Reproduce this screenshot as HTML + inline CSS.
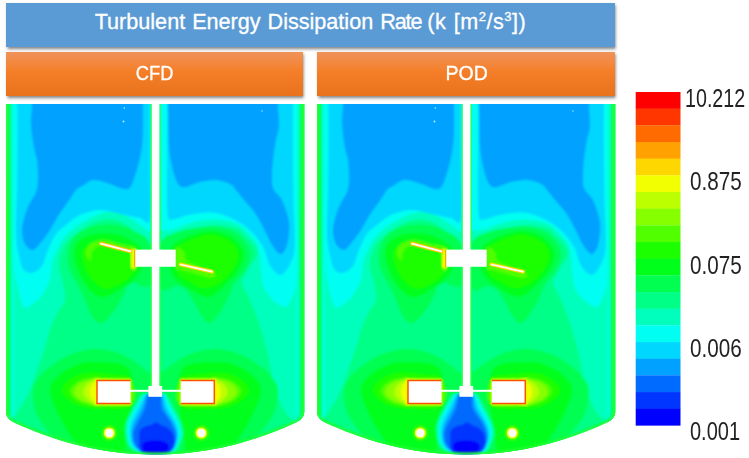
<!DOCTYPE html>
<html><head><meta charset="utf-8"><style>
html,body{margin:0;padding:0;background:#fff;}
body{width:749px;height:458px;overflow:hidden;position:relative;font-family:"Liberation Sans",sans-serif;}
.hdr{position:absolute;color:#fff;text-align:center;box-shadow:0.5px 2px 3px rgba(0,0,0,.5);}
#title{left:6px;top:3px;width:609px;height:44px;background:#5b9bd5;font-size:21.6px;line-height:38px;word-spacing:1px;}
#title sup{font-size:13px;line-height:0;vertical-align:8px;}
.or{top:52px;height:44px;background:linear-gradient(#f0925a 0%,#f57f28 45%,#e9721c 100%);font-size:21px;line-height:41px;}
.or span{display:inline-block;transform:scaleX(.87);}
#pod span{transform:scaleX(.93);position:relative;left:1px;}
.hdr{-webkit-text-stroke:0.3px #fff;}
#cfd{left:6px;width:297px;}
#pod{left:317.4px;width:297.6px;}
.lab{position:absolute;white-space:nowrap;font-size:25px;color:#222;line-height:26px;transform-origin:0 0;}
svg{position:absolute;left:0;top:0;}
</style></head><body>
<div class="hdr" id="title">Turbulent Energy Dissipation <span style="letter-spacing:-1.1px">Rate </span><span style="letter-spacing:.5px">(k [m<sup>2</sup>/s<sup>3</sup>])</span></div>
<div class="hdr or" id="cfd"><span>CFD</span></div>
<div class="hdr or" id="pod"><span>POD</span></div>
<svg width="749" height="458" viewBox="0 0 749 458">
<defs>
<clipPath id="tc"><path d="M6,104 H304.3 V411 C304.3,417 301,420 296,422.5 C262,438 215,454.5 155,454.5 C95,454.5 48,438 14,422.5 C9,420 6,417 6,411 Z"/></clipPath>
<filter id="bl" x="-5%" y="-5%" width="110%" height="110%"><feGaussianBlur stdDeviation="1.1"/></filter>
<linearGradient id="wl" x1="0" x2="1"><stop offset="0" stop-color="#20ff40"/><stop offset=".3" stop-color="#00ff60"/><stop offset=".6" stop-color="#00ffd0"/><stop offset="1" stop-color="#00fff0" stop-opacity="0"/></linearGradient>
<linearGradient id="wr" x1="1" x2="0"><stop offset="0" stop-color="#20ff40"/><stop offset=".3" stop-color="#00ff60"/><stop offset=".6" stop-color="#00ffd0"/><stop offset="1" stop-color="#00fff0" stop-opacity="0"/></linearGradient>
<g id="tank">
<g clip-path="url(#tc)">
<rect x="0" y="95" width="312" height="365" fill="#00ff86"/>
<g filter="url(#bl)">
<path fill="#00ffbc" d="M0.0,95.0 C51.7,39.2 258.0,39.2 310.0,95.0 C362.0,150.8 313.7,375.0 312.0,430.0 C310.3,485.0 304.5,428.0 300.0,425.0 C295.5,422.0 289.3,418.7 285.0,412.0 C280.7,405.3 276.5,392.8 274.0,385.0 C271.5,377.2 271.7,372.5 270.0,365.0 C268.3,357.5 266.3,348.3 264.0,340.0 C261.7,331.7 258.7,322.3 256.0,315.0 C253.3,307.7 250.3,301.3 248.0,296.0 C245.7,290.7 242.0,287.3 242.0,283.0 C242.0,278.7 245.5,274.7 248.0,270.0 C250.5,265.3 256.2,259.0 257.0,254.6 C257.8,250.2 254.8,247.0 252.6,243.7 C250.4,240.4 246.6,237.6 244.0,235.0 C241.4,232.4 241.8,230.1 237.0,228.4 C232.2,226.7 222.7,225.0 215.5,225.0 C208.3,225.0 201.2,226.7 194.0,228.4 C186.8,230.1 177.7,232.8 172.0,235.0 C166.3,237.2 162.8,240.2 160.0,241.5 C157.2,242.8 156.7,242.6 155.0,243.0 C153.3,243.4 152.2,245.0 150.0,244.0 C147.8,243.0 145.2,239.7 142.0,237.0 C138.8,234.3 135.0,230.7 131.0,228.0 C127.0,225.3 122.7,222.3 118.0,221.0 C113.3,219.7 108.2,219.2 103.0,220.0 C97.8,220.8 92.2,223.2 87.0,226.0 C81.8,228.8 76.0,233.3 72.0,237.0 C68.0,240.7 65.2,243.3 63.0,248.0 C60.8,252.7 59.0,259.2 59.0,265.0 C59.0,270.8 62.0,277.2 63.0,283.0 C64.0,288.8 65.8,295.2 65.0,300.0 C64.2,304.8 60.5,307.0 58.0,312.0 C55.5,317.0 52.0,324.5 50.0,330.0 C48.0,335.5 48.0,338.7 46.0,345.0 C44.0,351.3 40.7,360.5 38.0,368.0 C35.3,375.5 32.7,383.8 30.0,390.0 C27.3,396.2 25.0,400.0 22.0,405.0 C19.0,410.0 15.7,415.8 12.0,420.0 C8.3,424.2 2.0,484.2 0.0,430.0 C-2.0,375.8 -51.7,150.8 0.0,95.0Z"/>
<path fill="#00fff2" d="M0.0,95.0 C51.7,73.3 258.0,69.2 310.0,95.0 C362.0,120.8 313.8,220.8 312.0,250.0 C310.2,279.2 302.3,263.5 299.5,270.0 C296.7,276.5 296.6,283.7 295.0,289.0 C293.4,294.3 291.5,299.0 290.0,302.0 C288.5,305.0 287.7,306.5 286.0,307.0 C284.3,307.5 282.2,306.2 280.0,305.0 C277.8,303.8 275.7,302.8 273.0,300.0 C270.3,297.2 266.0,293.0 264.0,288.0 C262.0,283.0 261.7,275.2 261.0,270.0 C260.3,264.8 260.7,261.4 260.0,257.0 C259.3,252.6 259.0,247.7 257.0,243.7 C255.0,239.7 251.3,236.3 248.0,233.0 C244.7,229.7 242.4,226.2 237.0,224.0 C231.6,221.8 222.7,219.9 215.5,219.6 C208.3,219.3 201.2,220.3 194.0,222.0 C186.8,223.7 177.7,228.1 172.0,229.5 C166.3,230.9 162.8,230.2 160.0,230.5 C157.2,230.8 156.7,230.8 155.0,231.0 C153.3,231.2 151.8,232.5 150.0,232.0 C148.2,231.5 146.8,230.0 144.0,228.0 C141.2,226.0 137.3,222.5 133.0,220.0 C128.7,217.5 123.0,214.2 118.0,213.0 C113.0,211.8 108.2,211.8 103.0,213.0 C97.8,214.2 91.8,217.5 87.0,220.0 C82.2,222.5 78.0,224.8 74.0,228.0 C70.0,231.2 65.8,235.3 63.0,239.0 C60.2,242.7 58.8,246.2 57.0,250.0 C55.2,253.8 53.2,257.2 52.0,262.0 C50.8,266.8 51.2,274.3 50.0,279.0 C48.8,283.7 46.8,286.7 45.0,290.0 C43.2,293.3 41.3,296.5 39.0,299.0 C36.7,301.5 33.4,303.5 31.0,305.0 C28.6,306.5 26.3,308.8 24.6,307.8 C22.9,306.8 22.1,303.8 20.6,299.0 C19.1,294.2 17.3,286.3 15.7,279.0 C14.1,271.7 12.3,263.2 11.0,255.0 C9.7,246.8 9.8,235.0 8.0,230.0 C6.2,225.0 1.3,247.5 0.0,225.0 C-1.3,202.5 -51.7,116.7 0.0,95.0Z"/>
<path fill="#00d7ff" d="M17.5,60.0 C28.4,48.3 60.9,40.0 83.0,40.0 C105.1,40.0 138.8,49.3 150.0,60.0 C161.2,70.7 150.0,87.3 150.0,104.0 C150.0,120.7 150.0,140.8 150.0,160.0 C150.0,179.2 151.7,209.3 150.0,219.0 C148.3,228.7 145.0,218.8 140.0,218.0 C135.0,217.2 126.7,215.3 120.0,214.0 C113.3,212.7 106.7,209.8 100.0,210.0 C93.3,210.2 85.7,212.5 80.0,215.0 C74.3,217.5 70.0,221.8 66.0,225.0 C62.0,228.2 59.0,229.8 56.0,234.0 C53.0,238.2 50.3,244.7 48.0,250.0 C45.7,255.3 44.7,262.2 42.0,266.0 C39.3,269.8 35.0,272.3 32.0,273.0 C29.0,273.7 26.0,272.2 24.0,270.0 C22.0,267.8 21.3,265.8 20.0,260.0 C18.7,254.2 16.5,246.7 16.0,235.0 C15.5,223.3 16.8,204.2 17.0,190.0 C17.2,175.8 17.4,163.3 17.5,150.0 C17.6,136.7 17.5,125.0 17.5,110.0 C17.5,95.0 6.6,71.7 17.5,60.0Z"/>
<path fill="#00d7ff" d="M161.0,60.0 C171.3,49.3 207.0,40.0 229.0,40.0 C251.0,40.0 282.3,49.3 293.0,60.0 C303.7,70.7 293.0,89.0 293.0,104.0 C293.0,119.0 292.9,134.0 293.0,150.0 C293.1,166.0 293.2,184.3 293.5,200.0 C293.8,215.7 295.4,233.7 295.0,244.0 C294.6,254.3 293.3,256.8 291.0,262.0 C288.7,267.2 284.5,274.4 281.0,275.0 C277.5,275.6 272.9,270.0 270.0,265.5 C267.1,261.0 266.4,253.4 263.5,248.0 C260.6,242.6 257.0,237.5 252.6,233.0 C248.2,228.5 243.2,224.3 237.0,221.0 C230.8,217.7 222.7,214.2 215.5,213.0 C208.3,211.8 201.2,212.9 194.0,214.0 C186.8,215.1 176.3,219.1 172.0,219.6 C167.7,220.1 168.8,220.3 168.0,217.0 C167.2,213.7 167.2,211.2 167.0,200.0 C166.8,188.8 167.0,166.0 167.0,150.0 C167.0,134.0 168.0,119.0 167.0,104.0 C166.0,89.0 150.7,70.7 161.0,60.0Z"/>
<path fill="#00a1ff" d="M32.0,60.0 C41.3,49.3 69.5,40.0 88.0,40.0 C106.5,40.0 133.8,49.3 143.0,60.0 C152.2,70.7 143.0,92.3 143.0,104.0 C143.0,115.7 143.2,123.0 143.0,130.0 C142.8,137.0 142.8,140.0 142.0,146.0 C141.2,152.0 139.8,159.3 138.0,166.0 C136.2,172.7 133.3,182.2 131.0,186.0 C128.7,189.8 127.5,189.3 124.0,189.0 C120.5,188.7 115.0,185.5 110.0,184.0 C105.0,182.5 98.7,179.7 94.0,180.0 C89.3,180.3 85.0,184.3 82.0,186.0 C79.0,187.7 78.3,187.3 76.0,190.0 C73.7,192.7 71.0,197.7 68.0,202.0 C65.0,206.3 61.0,211.3 58.0,216.0 C55.0,220.7 53.3,225.0 50.0,230.0 C46.7,235.0 41.0,242.7 38.0,246.0 C35.0,249.3 34.2,250.3 32.0,250.0 C29.8,249.7 26.7,247.3 25.0,244.0 C23.3,240.7 21.8,235.3 22.0,230.0 C22.2,224.7 24.5,216.8 26.0,212.0 C27.5,207.2 29.3,204.3 31.0,201.0 C32.7,197.7 34.8,195.5 36.0,192.0 C37.2,188.5 37.8,185.3 38.0,180.0 C38.2,174.7 37.7,165.3 37.0,160.0 C36.3,154.7 35.0,154.0 34.0,148.0 C33.0,142.0 31.3,131.3 31.0,124.0 C30.7,116.7 31.8,114.7 32.0,104.0 C32.2,93.3 22.7,70.7 32.0,60.0Z"/>
<path fill="#00a1ff" d="M168.0,60.0 C177.2,49.3 204.7,40.0 223.0,40.0 C241.3,40.0 268.8,49.3 278.0,60.0 C287.2,70.7 277.8,93.0 278.0,104.0 C278.2,115.0 279.3,120.0 279.0,126.0 C278.7,132.0 277.0,134.3 276.0,140.0 C275.0,145.7 273.7,153.3 273.0,160.0 C272.3,166.7 271.8,175.0 272.0,180.0 C272.2,185.0 272.3,186.7 274.0,190.0 C275.7,193.3 279.5,194.7 282.0,200.0 C284.5,205.3 288.0,215.3 289.0,222.0 C290.0,228.7 288.7,235.3 288.0,240.0 C287.3,244.7 286.3,247.7 285.0,250.0 C283.7,252.3 282.2,254.8 280.0,254.0 C277.8,253.2 274.8,249.3 272.0,245.0 C269.2,240.7 266.3,233.3 263.5,228.0 C260.7,222.7 258.2,217.7 255.0,213.0 C251.8,208.3 247.2,203.8 244.0,200.0 C240.8,196.2 238.3,192.7 236.0,190.0 C233.7,187.3 233.3,185.7 230.0,184.0 C226.7,182.3 221.0,180.3 216.0,180.0 C211.0,179.7 205.0,180.8 200.0,182.0 C195.0,183.2 189.3,186.3 186.0,187.0 C182.7,187.7 181.7,187.2 180.0,186.0 C178.3,184.8 177.3,183.3 176.0,180.0 C174.7,176.7 173.2,171.7 172.0,166.0 C170.8,160.3 169.7,156.3 169.0,146.0 C168.3,135.7 168.2,118.3 168.0,104.0 C167.8,89.7 158.8,70.7 168.0,60.0Z"/>
<path fill="#00ff51" d="M68.0,255.0 C68.3,250.0 69.7,244.0 72.0,240.0 C74.3,236.0 78.2,233.3 82.0,231.0 C85.8,228.7 89.5,227.0 95.0,226.0 C100.5,225.0 108.8,224.3 115.0,225.0 C121.2,225.7 126.2,226.8 132.0,230.0 C137.8,233.2 147.0,234.8 150.0,244.0 C153.0,253.2 153.3,278.7 150.0,285.0 C146.7,291.3 134.3,280.5 130.0,282.0 C125.7,283.5 126.3,289.7 124.0,294.0 C121.7,298.3 118.7,304.0 116.0,308.0 C113.3,312.0 110.7,315.5 108.0,318.0 C105.3,320.5 102.7,323.3 100.0,323.0 C97.3,322.7 94.3,319.5 92.0,316.0 C89.7,312.5 88.3,307.2 86.0,302.0 C83.7,296.8 80.7,290.3 78.0,285.0 C75.3,279.7 71.7,275.0 70.0,270.0 C68.3,265.0 67.7,260.0 68.0,255.0Z"/>
<path fill="#00ff51" d="M161.0,244.0 C163.3,234.8 169.3,235.7 175.0,233.0 C180.7,230.3 188.2,229.0 195.0,228.0 C201.8,227.0 209.2,226.2 216.0,227.0 C222.8,227.8 230.7,229.8 236.0,233.0 C241.3,236.2 245.7,241.8 248.0,246.0 C250.3,250.2 250.7,253.7 250.0,258.0 C249.3,262.3 246.7,267.7 244.0,272.0 C241.3,276.3 236.7,279.7 234.0,284.0 C231.3,288.3 230.3,293.3 228.0,298.0 C225.7,302.7 223.0,307.8 220.0,312.0 C217.0,316.2 213.0,322.3 210.0,323.0 C207.0,323.7 204.7,319.5 202.0,316.0 C199.3,312.5 196.7,306.3 194.0,302.0 C191.3,297.7 189.0,292.7 186.0,290.0 C183.0,287.3 180.2,286.3 176.0,286.0 C171.8,285.7 163.5,295.0 161.0,288.0 C158.5,281.0 158.7,253.2 161.0,244.0Z"/>
<path fill="#00ff1b" d="M74.0,252.0 C74.3,247.5 76.3,243.8 79.0,241.0 C81.7,238.2 85.7,236.2 90.0,235.0 C94.3,233.8 100.0,233.5 105.0,233.5 C110.0,233.5 115.2,233.6 120.0,235.0 C124.8,236.4 130.3,239.5 134.0,242.0 C137.7,244.5 140.7,245.7 142.0,250.0 C143.3,254.3 143.3,263.0 142.0,268.0 C140.7,273.0 137.0,276.8 134.0,280.0 C131.0,283.2 127.0,285.0 124.0,287.0 C121.0,289.0 118.7,290.5 116.0,292.0 C113.3,293.5 110.7,295.2 108.0,296.0 C105.3,296.8 102.7,297.7 100.0,297.0 C97.3,296.3 94.7,294.5 92.0,292.0 C89.3,289.5 86.5,286.0 84.0,282.0 C81.5,278.0 78.7,273.0 77.0,268.0 C75.3,263.0 73.7,256.5 74.0,252.0Z"/>
<path fill="#00ff1b" d="M170.0,250.0 C171.7,245.3 175.8,242.7 180.0,240.0 C184.2,237.3 189.7,235.5 195.0,234.0 C200.3,232.5 206.2,230.7 212.0,231.0 C217.8,231.3 225.0,233.2 230.0,236.0 C235.0,238.8 239.8,244.0 242.0,248.0 C244.2,252.0 244.0,255.7 243.0,260.0 C242.0,264.3 238.8,270.0 236.0,274.0 C233.2,278.0 229.0,281.0 226.0,284.0 C223.0,287.0 221.0,289.8 218.0,292.0 C215.0,294.2 211.3,296.7 208.0,297.0 C204.7,297.3 201.3,295.5 198.0,294.0 C194.7,292.5 191.7,290.3 188.0,288.0 C184.3,285.7 179.0,283.3 176.0,280.0 C173.0,276.7 171.0,273.0 170.0,268.0 C169.0,263.0 168.3,254.7 170.0,250.0Z"/>
<path fill="#1bff00" d="M83.0,250.0 C84.2,247.2 87.4,245.5 90.0,244.0 C92.6,242.5 94.2,240.8 98.4,241.0 C102.6,241.2 109.1,243.5 115.0,245.0 C120.9,246.5 130.5,246.2 133.8,250.0 C137.1,253.8 136.0,263.2 135.0,268.0 C134.0,272.8 131.2,276.0 128.0,279.0 C124.8,282.0 119.8,284.3 116.0,286.0 C112.2,287.7 108.6,289.3 105.3,289.0 C102.0,288.7 98.9,286.5 96.0,284.0 C93.1,281.5 90.2,277.8 88.0,274.0 C85.8,270.2 83.5,265.0 82.7,261.0 C81.9,257.0 81.8,252.8 83.0,250.0Z"/>
<path fill="#1bff00" d="M176.0,250.0 C177.1,245.0 180.8,245.0 184.0,243.0 C187.2,241.0 190.8,239.4 195.3,238.0 C199.8,236.6 205.1,233.9 211.0,234.5 C216.9,235.1 226.1,238.0 230.7,241.5 C235.3,245.0 238.5,250.1 238.5,255.3 C238.5,260.6 234.3,268.1 230.7,273.0 C227.1,277.9 221.6,282.5 217.0,285.0 C212.4,287.5 207.6,288.5 203.0,288.0 C198.4,287.5 193.6,284.5 189.4,282.0 C185.2,279.5 179.8,278.3 177.6,273.0 C175.4,267.7 174.9,255.0 176.0,250.0Z"/>
<path fill="#51ff00" d="M96.0,241.5 C93.7,242.2 91.7,242.6 90.0,244.0 C88.3,245.4 86.5,247.8 86.0,250.0 C85.5,252.2 86.2,255.3 87.0,257.0 C87.8,258.7 90.2,260.8 91.0,260.0 C91.8,259.2 90.5,254.3 92.0,252.0 C93.5,249.7 95.7,246.3 100.0,246.0 C104.3,245.7 113.0,248.8 118.0,250.0 C123.0,251.2 127.8,250.0 130.0,253.0 C132.2,256.0 130.0,265.5 131.0,268.0 C132.0,270.5 135.2,271.2 136.0,268.0 C136.8,264.8 138.7,253.0 136.0,249.0 C133.3,245.0 125.3,245.5 120.0,244.0 C114.7,242.5 108.0,240.4 104.0,240.0 C100.0,239.6 98.3,240.8 96.0,241.5Z"/>
<path fill="#51ff00" d="M176.0,248.0 C177.3,245.3 182.3,250.0 184.0,252.0 C185.7,254.0 183.7,257.7 186.0,260.0 C188.3,262.3 193.7,264.3 198.0,266.0 C202.3,267.7 209.0,268.3 212.0,270.0 C215.0,271.7 216.3,274.7 216.0,276.0 C215.7,277.3 213.3,278.3 210.0,278.0 C206.7,277.7 200.7,275.3 196.0,274.0 C191.3,272.7 185.3,271.0 182.0,270.0 C178.7,269.0 177.0,271.7 176.0,268.0 C175.0,264.3 174.7,250.7 176.0,248.0Z"/>
<path fill="#86ff00" d="M131.5,250.0 C132.2,247.0 134.8,247.0 135.5,250.0 C136.2,253.0 136.2,265.0 135.5,268.0 C134.8,271.0 132.2,271.0 131.5,268.0 C130.8,265.0 130.8,253.0 131.5,250.0Z"/>
<path fill="#00ff51" d="M33.0,392.0 C33.0,384.7 36.5,380.7 40.0,376.0 C43.5,371.3 48.7,367.7 54.0,364.0 C59.3,360.3 65.2,356.5 72.0,354.0 C78.8,351.5 87.3,349.2 95.0,349.0 C102.7,348.8 111.3,350.8 118.0,353.0 C124.7,355.2 130.0,358.8 135.0,362.0 C140.0,365.2 144.7,369.7 148.0,372.0 C151.3,374.3 152.7,376.0 155.0,376.0 C157.3,376.0 158.5,374.3 162.0,372.0 C165.5,369.7 170.8,365.2 176.0,362.0 C181.2,358.8 186.3,355.2 193.0,353.0 C199.7,350.8 208.3,348.8 216.0,349.0 C223.7,349.2 232.2,351.5 239.0,354.0 C245.8,356.5 251.7,360.3 257.0,364.0 C262.3,367.7 267.5,371.3 271.0,376.0 C274.5,380.7 278.2,384.7 278.0,392.0 C277.8,399.3 276.3,411.2 270.0,420.0 C263.7,428.8 259.2,438.3 240.0,445.0 C220.8,451.7 183.3,460.0 155.0,460.0 C126.7,460.0 89.2,451.7 70.0,445.0 C50.8,438.3 46.2,428.8 40.0,420.0 C33.8,411.2 33.0,399.3 33.0,392.0Z"/>
<path fill="#00ff1b" d="M50.0,392.0 C49.0,383.8 54.0,380.3 58.0,376.0 C62.0,371.7 68.3,368.3 74.0,366.0 C79.7,363.7 83.0,361.7 92.0,362.0 C101.0,362.3 121.3,361.0 128.0,368.0 C134.7,375.0 132.0,393.7 132.0,404.0 C132.0,414.3 130.0,420.7 128.0,430.0 C126.0,439.3 127.3,456.7 120.0,460.0 C112.7,463.3 93.3,455.8 84.0,450.0 C74.7,444.2 69.7,434.7 64.0,425.0 C58.3,415.3 51.0,400.2 50.0,392.0Z"/>
<path fill="#00ff1b" d="M261.0,392.0 C262.0,383.8 257.0,380.3 253.0,376.0 C249.0,371.7 242.7,368.3 237.0,366.0 C231.3,363.7 228.0,361.7 219.0,362.0 C210.0,362.3 189.7,361.0 183.0,368.0 C176.3,375.0 179.0,393.7 179.0,404.0 C179.0,414.3 181.0,420.7 183.0,430.0 C185.0,439.3 183.7,456.7 191.0,460.0 C198.3,463.3 217.7,455.8 227.0,450.0 C236.3,444.2 241.3,434.7 247.0,425.0 C252.7,415.3 260.0,400.2 261.0,392.0Z"/>
<path fill="#1bff00" d="M62.0,392.0 C60.7,387.8 65.0,383.2 69.0,380.0 C73.0,376.8 79.2,374.0 86.0,373.0 C92.8,372.0 102.3,373.0 110.0,374.0 C117.7,375.0 128.3,373.7 132.0,379.0 C135.7,384.3 137.3,401.0 132.0,406.0 C126.7,411.0 109.2,409.2 100.0,409.0 C90.8,408.8 83.3,407.8 77.0,405.0 C70.7,402.2 63.3,396.2 62.0,392.0Z"/>
<path fill="#1bff00" d="M249.0,392.0 C250.3,387.8 246.0,383.2 242.0,380.0 C238.0,376.8 231.8,374.0 225.0,373.0 C218.2,372.0 208.7,373.0 201.0,374.0 C193.3,375.0 182.7,373.7 179.0,379.0 C175.3,384.3 173.7,401.0 179.0,406.0 C184.3,411.0 201.8,409.2 211.0,409.0 C220.2,408.8 227.7,407.8 234.0,405.0 C240.3,402.2 247.7,396.2 249.0,392.0Z"/>
<path fill="#51ff00" d="M70.0,392.0 C69.3,388.8 72.8,385.3 76.0,383.0 C79.2,380.7 83.3,378.7 89.0,378.0 C94.7,377.3 103.0,378.3 110.0,379.0 C117.0,379.7 127.5,377.8 131.0,382.0 C134.5,386.2 136.2,400.0 131.0,404.0 C125.8,408.0 108.5,406.3 100.0,406.0 C91.5,405.7 85.0,404.3 80.0,402.0 C75.0,399.7 70.7,395.2 70.0,392.0Z"/>
<path fill="#51ff00" d="M241.0,392.0 C241.7,388.8 238.2,385.3 235.0,383.0 C231.8,380.7 227.7,378.7 222.0,378.0 C216.3,377.3 208.0,378.3 201.0,379.0 C194.0,379.7 183.5,377.8 180.0,382.0 C176.5,386.2 174.8,400.0 180.0,404.0 C185.2,408.0 202.5,406.3 211.0,406.0 C219.5,405.7 226.0,404.3 231.0,402.0 C236.0,399.7 240.3,395.2 241.0,392.0Z"/>
<path fill="#86ff00" d="M74.0,392.0 C74.0,389.5 76.3,386.0 79.0,384.0 C81.7,382.0 86.7,380.7 90.0,380.0 C93.3,379.3 97.5,376.0 99.0,380.0 C100.5,384.0 100.8,400.2 99.0,404.0 C97.2,407.8 91.3,403.8 88.0,403.0 C84.7,402.2 81.3,400.8 79.0,399.0 C76.7,397.2 74.0,394.5 74.0,392.0Z"/>
<path fill="#86ff00" d="M237.0,392.0 C237.0,389.5 234.7,386.0 232.0,384.0 C229.3,382.0 224.3,380.7 221.0,380.0 C217.7,379.3 213.5,376.0 212.0,380.0 C210.5,384.0 210.2,400.2 212.0,404.0 C213.8,407.8 219.7,403.8 223.0,403.0 C226.3,402.2 229.7,400.8 232.0,399.0 C234.3,397.2 237.0,394.5 237.0,392.0Z"/>
<path fill="#bcff00" d="M83.0,392.0 C83.2,389.7 85.2,385.9 87.0,384.0 C88.8,382.1 92.2,381.1 94.0,380.5 C95.8,379.9 97.3,376.7 98.0,380.5 C98.7,384.3 99.0,399.8 98.0,403.5 C97.0,407.2 94.0,403.4 92.0,402.5 C90.0,401.6 87.5,399.8 86.0,398.0 C84.5,396.2 82.8,394.3 83.0,392.0Z"/>
<path fill="#bcff00" d="M228.0,392.0 C227.8,389.7 225.8,385.9 224.0,384.0 C222.2,382.1 218.8,381.1 217.0,380.5 C215.2,379.9 213.7,376.7 213.0,380.5 C212.3,384.3 212.0,399.8 213.0,403.5 C214.0,407.2 217.0,403.4 219.0,402.5 C221.0,401.6 223.5,399.8 225.0,398.0 C226.5,396.2 228.2,394.3 228.0,392.0Z"/>
<path fill="#f2ff00" d="M90.0,392.0 C90.0,389.7 90.8,386.7 92.0,385.0 C93.2,383.3 96.2,379.2 97.0,382.0 C97.8,384.8 97.8,399.2 97.0,402.0 C96.2,404.8 93.2,400.7 92.0,399.0 C90.8,397.3 90.0,394.3 90.0,392.0Z"/>
<path fill="#f2ff00" d="M221.0,392.0 C221.0,389.7 220.2,386.7 219.0,385.0 C217.8,383.3 214.8,379.2 214.0,382.0 C213.2,384.8 213.2,399.2 214.0,402.0 C214.8,404.8 217.8,400.7 219.0,399.0 C220.2,397.3 221.0,394.3 221.0,392.0Z"/>
<path fill="#00ffbc" d="M144.0,394.0 C140.2,394.3 142.8,393.6 141.0,396.0 C139.2,398.4 135.4,404.1 133.0,408.4 C130.6,412.7 127.8,417.6 126.5,421.8 C125.2,426.0 125.2,429.5 125.5,433.4 C125.8,437.3 126.6,441.7 128.5,445.0 C130.4,448.3 132.6,449.5 137.0,453.0 C141.4,456.5 148.8,466.0 155.0,466.0 C161.2,466.0 169.9,456.5 174.0,453.0 C178.1,449.5 178.0,448.3 179.5,445.0 C181.0,441.7 182.8,437.3 183.0,433.4 C183.2,429.5 182.1,426.0 180.5,421.8 C178.9,417.6 175.8,412.7 173.5,408.4 C171.2,404.1 168.6,398.4 167.0,396.0 C165.4,393.6 167.8,394.3 164.0,394.0 C160.2,393.7 147.8,393.7 144.0,394.0Z"/>
<path fill="#00fff2" d="M146.0,394.0 C142.8,394.3 144.8,393.6 143.0,396.0 C141.2,398.4 137.8,404.1 135.5,408.4 C133.2,412.7 130.2,417.6 129.0,421.8 C127.8,426.0 127.7,429.5 128.0,433.4 C128.3,437.3 129.1,441.7 131.0,445.0 C132.9,448.3 135.5,449.5 139.5,453.0 C143.5,456.5 149.7,466.0 155.0,466.0 C160.3,466.0 167.8,456.5 171.5,453.0 C175.2,449.5 175.5,448.3 177.0,445.0 C178.5,441.7 180.3,437.3 180.5,433.4 C180.7,429.5 179.6,426.0 178.0,421.8 C176.4,417.6 173.2,412.7 171.0,408.4 C168.8,404.1 166.5,398.4 165.0,396.0 C163.5,393.6 165.2,394.3 162.0,394.0 C158.8,393.7 149.2,393.7 146.0,394.0Z"/>
<path fill="#00d7ff" d="M147.5,394.0 C144.8,394.3 146.1,393.6 144.5,396.0 C142.9,398.4 140.2,404.1 138.0,408.4 C135.8,412.7 132.8,417.6 131.5,421.8 C130.2,426.0 129.8,429.5 130.0,433.4 C130.2,437.3 130.7,441.7 132.5,445.0 C134.3,448.3 137.2,449.5 141.0,453.0 C144.8,456.5 150.1,466.0 155.0,466.0 C159.9,466.0 167.0,456.5 170.5,453.0 C174.0,449.5 174.7,448.3 176.0,445.0 C177.3,441.7 178.6,437.3 178.5,433.4 C178.4,429.5 177.2,426.0 175.5,421.8 C173.8,417.6 170.0,412.7 168.0,408.4 C166.0,404.1 164.8,398.4 163.5,396.0 C162.2,393.6 163.2,394.3 160.5,394.0 C157.8,393.7 150.2,393.7 147.5,394.0Z"/>
<path fill="#00a1ff" d="M149.0,394.0 C146.8,394.3 147.2,393.6 146.0,396.0 C144.8,398.4 143.4,404.1 141.5,408.4 C139.6,412.7 136.2,417.6 134.5,421.8 C132.8,426.0 131.6,429.5 131.5,433.4 C131.4,437.3 132.2,441.7 134.0,445.0 C135.8,448.3 138.5,449.5 142.0,453.0 C145.5,456.5 150.3,466.0 155.0,466.0 C159.7,466.0 166.6,456.5 170.0,453.0 C173.4,449.5 174.3,448.3 175.5,445.0 C176.7,441.7 177.4,437.3 177.0,433.4 C176.6,429.5 175.0,426.0 173.0,421.8 C171.0,417.6 166.8,412.7 165.0,408.4 C163.2,404.1 163.4,398.4 162.5,396.0 C161.6,393.6 161.8,394.3 159.5,394.0 C157.2,393.7 151.2,393.7 149.0,394.0Z"/>
<path fill="#006bff" d="M150.6,394.0 C148.9,394.3 148.6,393.6 147.6,396.0 C146.6,398.4 146.3,404.1 144.7,408.4 C143.1,412.7 139.9,417.6 138.0,421.8 C136.1,426.0 133.6,429.5 133.2,433.4 C132.8,437.3 133.9,441.7 135.5,445.0 C137.1,448.3 139.8,449.5 143.0,453.0 C146.2,456.5 150.6,466.0 155.0,466.0 C159.4,466.0 166.2,456.5 169.5,453.0 C172.8,449.5 173.5,448.3 174.5,445.0 C175.5,441.7 176.1,437.3 175.4,433.4 C174.8,429.5 172.8,426.0 170.6,421.8 C168.4,417.6 163.6,412.7 162.0,408.4 C160.4,404.1 161.7,398.4 161.0,396.0 C160.3,393.6 159.7,394.3 158.0,394.0 C156.3,393.7 152.3,393.7 150.6,394.0Z"/>
<path fill="#0036ff" d="M139.0,440.0 C138.8,436.3 138.8,432.3 140.0,430.0 C141.2,427.7 144.0,426.9 146.0,426.0 C148.0,425.1 150.3,425.2 152.0,424.5 C153.7,423.8 154.5,421.9 156.0,422.0 C157.5,422.1 159.0,424.0 161.0,425.0 C163.0,426.0 166.0,426.5 168.0,428.0 C170.0,429.5 171.9,431.7 173.0,434.0 C174.1,436.3 175.0,439.0 174.5,442.0 C174.0,445.0 173.2,448.7 170.0,452.0 C166.8,455.3 159.8,462.0 155.0,462.0 C150.2,462.0 143.7,455.7 141.0,452.0 C138.3,448.3 139.2,443.7 139.0,440.0Z"/>
<path fill="#0000ff" d="M141.8,446.0 C142.0,444.2 143.8,442.4 146.0,441.5 C148.2,440.6 152.0,440.5 155.0,440.5 C158.0,440.5 161.7,440.6 164.0,441.5 C166.3,442.4 168.4,444.2 168.7,446.0 C169.0,447.8 168.3,450.0 166.0,452.0 C163.7,454.0 158.5,458.0 155.0,458.0 C151.5,458.0 147.2,454.0 145.0,452.0 C142.8,450.0 141.6,447.8 141.8,446.0Z"/>
</g>
<rect x="6" y="104" width="10" height="312" fill="url(#wl)"/>
<rect x="294.3" y="104" width="10" height="312" fill="url(#wr)"/>
<path d="M6,100 V411 C6,417 9,420 14,422.5 C48,438 95,454.5 155,454.5 C215,454.5 262,438 296,422.5 C301,420 304.3,417 304.3,411 V100" fill="none" stroke="#20ff30" stroke-width="4" filter="url(#bl)"/>

<g>
<circle cx="124.3" cy="108" r="0.8" fill="#c8ecff"/><circle cx="123.5" cy="121.5" r="0.9" fill="#c8ecff"/><circle cx="262" cy="111" r="0.8" fill="#9fe0ff"/>
<rect x="151.6" y="100" width="8" height="288" fill="#fff"/>
<rect x="150.4" y="104" width="1.2" height="282" fill="#30ff40"/>
<rect x="159.6" y="104" width="1.2" height="282" fill="#30ff40"/>
<rect x="130.8" y="249" width="5" height="19" fill="#e8ff00" filter="url(#bl)"/><rect x="134.2" y="250" width="1.4" height="17" fill="#ff9a00"/><rect x="135.3" y="249.6" width="40.4" height="17.2" fill="#fff"/>
<line x1="101" y1="243.6" x2="130.6" y2="251.4" stroke="#ffc400" stroke-width="3.8" stroke-linecap="round"/>
<line x1="101" y1="243.6" x2="130.6" y2="251.4" stroke="#fff" stroke-width="1.7" stroke-linecap="round"/>
<line x1="180.5" y1="264.5" x2="211.9" y2="271.7" stroke="#ffd800" stroke-width="3.8" stroke-linecap="round"/>
<line x1="180.5" y1="264.5" x2="211.9" y2="271.7" stroke="#fff" stroke-width="1.7" stroke-linecap="round"/>
<rect x="95" y="378.5" width="36" height="27" fill="#e0ff00" filter="url(#bl)" opacity=".9"/><rect x="97" y="380.4" width="33.5" height="23.2" fill="#fff"/><path d="M130.5,380.4 H97 V403.6 H130.5" fill="none" stroke="#ff5200" stroke-width="1.5"/>
<rect x="180" y="378.5" width="36" height="27" fill="#e0ff00" filter="url(#bl)" opacity=".9"/><rect x="180.8" y="380.4" width="33.5" height="23.2" fill="#fff"/><path d="M180.8,380.4 H214.3 V403.6 H180.8" fill="none" stroke="#ff5200" stroke-width="1.5"/>
<rect x="130" y="389.8" width="52" height="2" fill="#fff"/>
<rect x="148.4" y="386" width="13.8" height="10.8" fill="#fff"/>
<circle cx="109.3" cy="433" r="7.5" fill="#50ff00" filter="url(#bl)"/><circle cx="109.3" cy="433" r="5.6" fill="#f4ff20"/><circle cx="109.3" cy="433" r="3.9" fill="#fff"/>
<circle cx="201.3" cy="433" r="7.5" fill="#50ff00" filter="url(#bl)"/><circle cx="201.3" cy="433" r="5.6" fill="#f4ff20"/><circle cx="201.3" cy="433" r="3.9" fill="#fff"/>
</g>

</g>
</g>
</defs>
<use href="#tank"/>
<use href="#tank" x="311"/>
<rect x="635.7" y="92.00" width="44.8" height="16.90" fill="#ff0000"/><rect x="635.7" y="108.67" width="44.8" height="16.90" fill="#ff3600"/><rect x="635.7" y="125.34" width="44.8" height="16.90" fill="#ff6b00"/><rect x="635.7" y="142.01" width="44.8" height="16.90" fill="#ffa100"/><rect x="635.7" y="158.68" width="44.8" height="16.90" fill="#ffd700"/><rect x="635.7" y="175.35" width="44.8" height="16.90" fill="#f2ff00"/><rect x="635.7" y="192.02" width="44.8" height="16.90" fill="#bcff00"/><rect x="635.7" y="208.69" width="44.8" height="16.90" fill="#86ff00"/><rect x="635.7" y="225.36" width="44.8" height="16.90" fill="#51ff00"/><rect x="635.7" y="242.03" width="44.8" height="16.90" fill="#1bff00"/><rect x="635.7" y="258.70" width="44.8" height="16.90" fill="#00ff1b"/><rect x="635.7" y="275.37" width="44.8" height="16.90" fill="#00ff51"/><rect x="635.7" y="292.04" width="44.8" height="16.90" fill="#00ff86"/><rect x="635.7" y="308.71" width="44.8" height="16.90" fill="#00ffbc"/><rect x="635.7" y="325.38" width="44.8" height="16.90" fill="#00fff2"/><rect x="635.7" y="342.05" width="44.8" height="16.90" fill="#00d7ff"/><rect x="635.7" y="358.72" width="44.8" height="16.90" fill="#00a1ff"/><rect x="635.7" y="375.39" width="44.8" height="16.90" fill="#006bff"/><rect x="635.7" y="392.06" width="44.8" height="16.90" fill="#0036ff"/><rect x="635.7" y="408.73" width="44.8" height="16.90" fill="#0000ff"/>
</svg>
<div class="lab" style="left:685px;top:84.6px;transform:scaleX(.787)">10.212</div>
<div class="lab" style="left:689.6px;top:168.4px;transform:scaleX(.825)">0.875</div>
<div class="lab" style="left:689.6px;top:251.7px;transform:scaleX(.825)">0.075</div>
<div class="lab" style="left:689.6px;top:335.1px;transform:scaleX(.825)">0.006</div>
<div class="lab" style="left:689.6px;top:418.4px;transform:scaleX(.8)">0.001</div>
</body></html>
